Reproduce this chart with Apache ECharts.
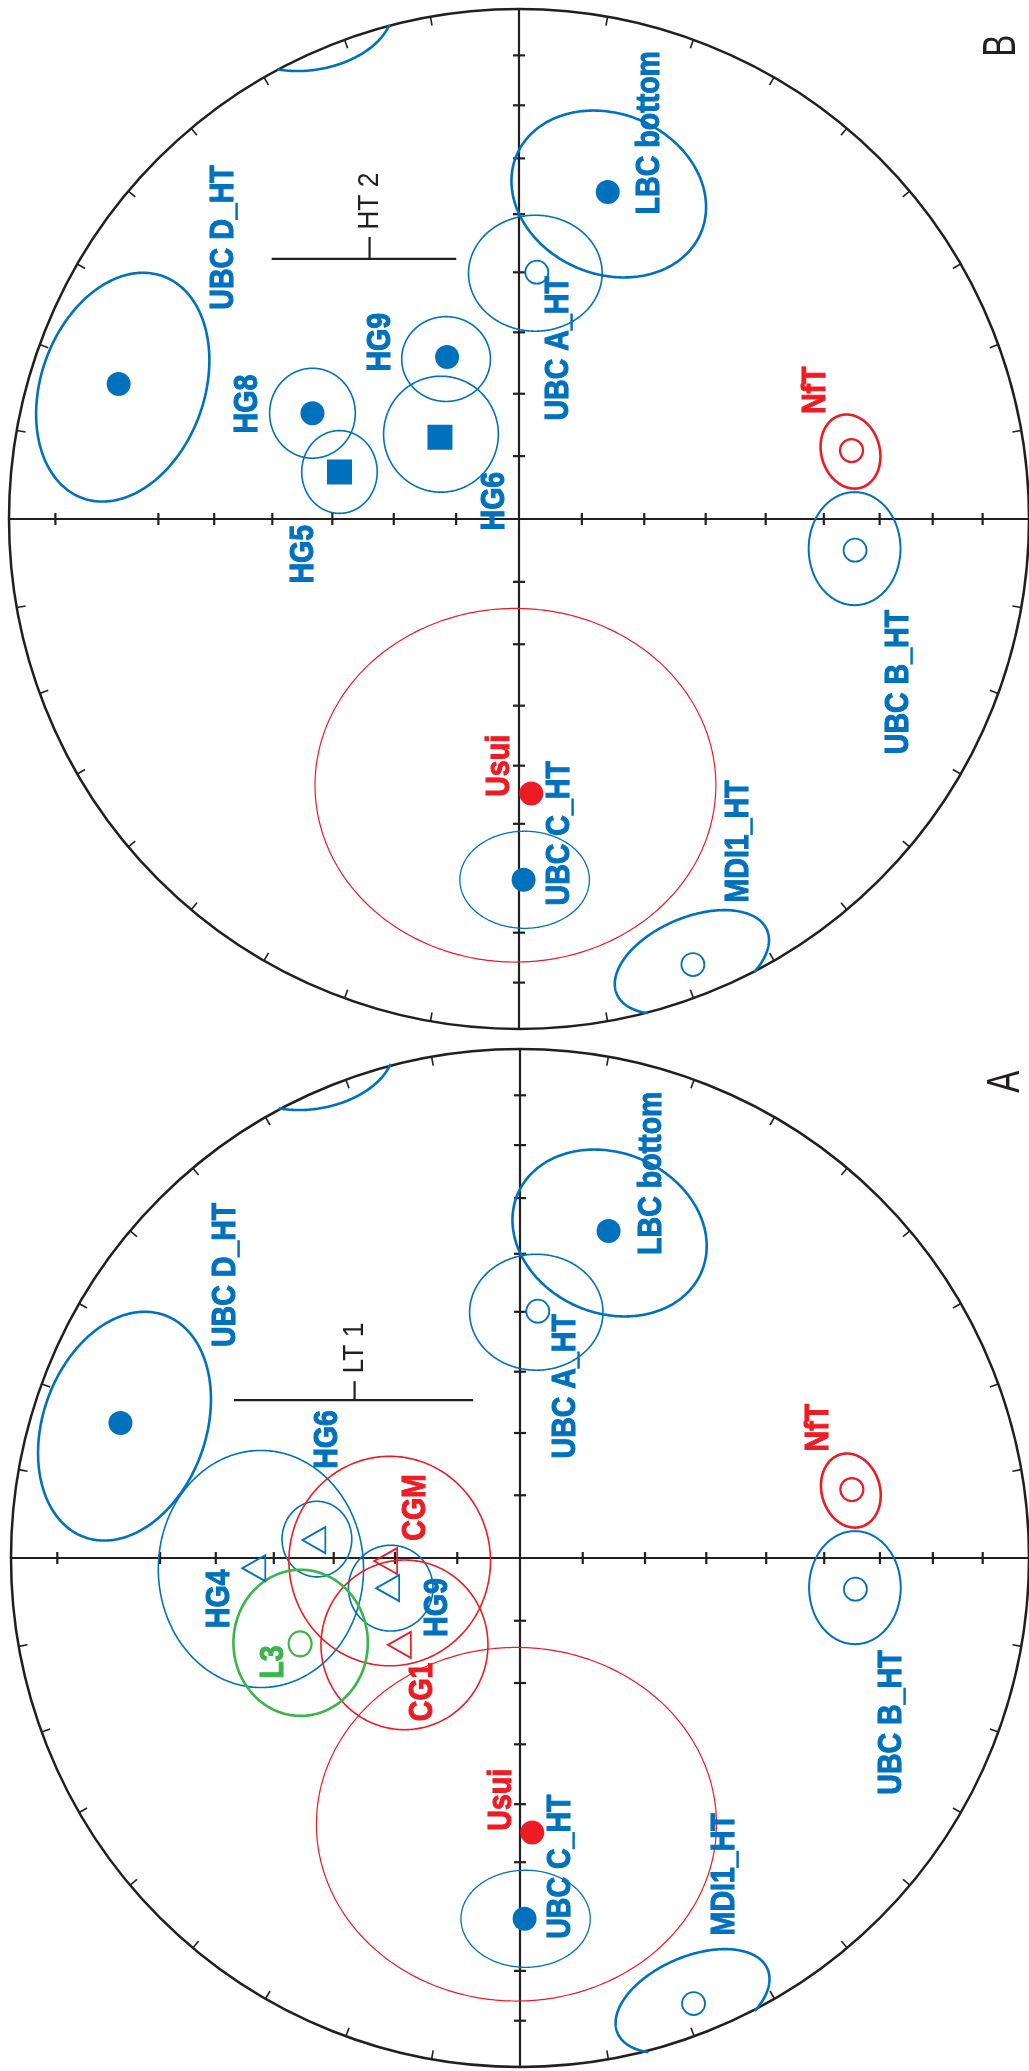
<!DOCTYPE html>
<html>
<head>
<meta charset="utf-8">
<title>Equal-area projections of site mean directions</title>
<script src="https://cdn.jsdelivr.net/npm/echarts@6/dist/echarts.min.js"></script>
<style>
  html, body { margin: 0; padding: 0; background: #ffffff; }
  #chart { width: 1029px; height: 2071px; }
</style>
</head>
<body>
<div id="chart"></div>
<script>
// ---------- net scale ----------
// inclination ticks along the axes (degrees), equal-area spacing
const inclinationTicks = [10, 20, 30, 40, 50, 60, 70, 80];
// azimuth ticks round the primitive (degrees, clockwise from top)
const azimuthTicks = [10, 20, 30, 40, 50, 60, 70, 80, 100, 110, 120, 130, 140, 150, 160, 170,
                      190, 200, 210, 220, 230, 240, 250, 260, 280, 290, 300, 310, 320, 330, 340, 350];

// ---------- sites shown in both nets (projected x, y on the unit net) ----------
const sharedSites = ['UBC D_HT', 'LBC bottom', 'UBC A_HT', 'NfT', 'UBC B_HT', 'UBC C_HT', 'Usui', 'MDI1_HT'];
const sharedMeans = [
  [-0.785, 0.264], [0.174, 0.640], [0.035, 0.483], [0.652, 0.134],
  [0.659, -0.061], [0.009, -0.706], [0.024, -0.537], [0.341, -0.872]
];
// confidence ellipses: [centre x, centre y, semi-major, semi-minor, tilt of major axis (deg)]
const sharedCones = [
  [-0.777, 0.258, 0.231, 0.160, 70],
  [0.176, 0.636, 0.196, 0.157, -22.5],
  [0.032, 0.481, 0.131, 0.1135, 0],
  [0.650, 0.132, 0.0736, 0.0573, 106],
  [0.658, -0.058, 0.1106, 0.090, 90],
  [0.011, -0.706, 0.127, 0.095, 0],
  [-0.007, -0.521, 0.393, 0.346, 0],
  [0.339, -0.867, 0.160, 0.087, 23]
];
// part of the MDI1_HT cone that crosses the primitive and reappears opposite
const wrappedSites = ['MDI1_HT'];
const wrappedCones = [[-0.407, 0.977, 0.160, 0.098, 10]];

// ---------- net B only ----------
const sitesB = ['HG8', 'HG5', 'HG9', 'HG6'];
const meansB = [[-0.405, 0.207], [-0.352, 0.092], [-0.141, 0.317], [-0.155, 0.160]];
const conesB = [
  [-0.405, 0.207, 0.088, 0.084, 90],
  [-0.352, 0.092, 0.081, 0.074, 90],
  [-0.143, 0.313, 0.087, 0.083, 0],
  [-0.153, 0.166, 0.1135, 0.1125, 90]
];

// ---------- net A only ----------
const sitesA = ['HG4', 'HG6', 'CGM', 'HG9', 'CG1', 'L3'];
const meansA = [[-0.523, -0.020], [-0.405, 0.035], [-0.264, -0.006], [-0.260, -0.059], [-0.237, -0.170], [-0.432, -0.168]];
const conesA = [
  [-0.509, -0.0215, 0.232, 0.2016, 90],
  [-0.399, 0.037, 0.074, 0.0685, 90],
  [-0.256, -0.006, 0.205, 0.198, 90],
  [-0.254, -0.059, 0.084, 0.083, 90],
  [-0.227, -0.170, 0.166, 0.164, 90],
  [-0.431, -0.166, 0.143, 0.132, 90]
];

// ---------- reference bars: [from x, to x, y, tick x, tick top] ----------
const barB = { text: 'HT 2', seg: [-0.485, -0.123, 0.509, -0.293, 0.552] };
const barA = { text: 'LT 1', seg: [-0.562, -0.092, 0.309, -0.325, 0.346] };

// ---------- styling ----------
const BLUE = '#0071bc', RED = '#ed1c24', GREEN = '#39b54a', INK = '#231f20';

const sharedStyle = {
  'UBC D_HT':   { color: BLUE, marker: 'dot',  line: 2.6 },
  'LBC bottom': { color: BLUE, marker: 'dot',  line: 2.6 },
  'UBC A_HT':   { color: BLUE, marker: 'ring', line: 1.6 },
  'NfT':        { color: RED,  marker: 'ring', line: 2.6 },
  'UBC B_HT':   { color: BLUE, marker: 'ring', line: 2.0 },
  'UBC C_HT':   { color: BLUE, marker: 'dot',  line: 1.3 },
  'Usui':       { color: RED,  marker: 'dot',  line: 1.2 },
  'MDI1_HT':    { color: BLUE, marker: 'ring', line: 2.6 }
};
const styleB = Object.assign({}, sharedStyle, {
  'HG8': { color: BLUE, marker: 'dot',    line: 1.6 },
  'HG5': { color: BLUE, marker: 'square', line: 1.6 },
  'HG9': { color: BLUE, marker: 'dot',    line: 1.6 },
  'HG6': { color: BLUE, marker: 'square', line: 1.6 }
});
const styleA = Object.assign({}, sharedStyle, {
  'HG4': { color: BLUE,  marker: 'tri',  line: 1.6 },
  'HG6': { color: BLUE,  marker: 'tri',  line: 1.6 },
  'CGM': { color: RED,   marker: 'tri',  line: 1.6 },
  'HG9': { color: BLUE,  marker: 'tri',  line: 1.6 },
  'CG1': { color: RED,   marker: 'tri',  line: 1.6 },
  'L3':  { color: GREEN, marker: 'ring', line: 2.6 }
});

// label placement on each net (unit-net coordinates)
const placeB = {
  'UBC D_HT': [-0.579, 0.551], 'HG8': [-0.533, 0.225], 'HG9': [-0.272, 0.346], 'HG5': [-0.422, -0.069],
  'HG6': [-0.047, 0.035], 'LBC bottom': [0.257, 0.756], 'UBC A_HT': [0.078, 0.334], 'NfT': [0.582, 0.252],
  'UBC B_HT': [0.744, -0.319], 'MDI1_HT': [0.430, -0.631], 'UBC C_HT': [0.079, -0.615], 'Usui': [-0.038, -0.483]
};
const placeA = {
  'UBC D_HT': [-0.579, 0.554], 'HG6': [-0.377, 0.232], 'CGM': [-0.2045, 0.099], 'HG4': [-0.591, -0.080],
  'L3': [-0.484, -0.2035], 'HG9': [-0.162, -0.097], 'CG1': [-0.191, -0.262], 'Usui': [-0.037, -0.473],
  'LBC bottom': [0.258, 0.753], 'UBC A_HT': [0.090, 0.336], 'NfT': [0.586, 0.255],
  'UBC B_HT': [0.730, -0.322], 'MDI1_HT': [0.402, -0.619], 'UBC C_HT': [0.080, -0.604]
};
const panelB = { text: 'B', at: [0.947, 0.926], bar: [-0.293, 0.622] };
const panelA = { text: 'A', at: [0.955, 0.932], bar: [-0.325, 0.411] };

const SITE_FONT = 'bold 34px "Liberation Sans", Arial, sans-serif';
const NOTE_FONT = '30px "Liberation Sans", Arial, sans-serif';
const PANEL_FONT = '46px "Liberation Sans", Arial, sans-serif';

// ---------- renderers ----------
function frameRenderer(skipLeft) {
  return function (params, api) {
    const c = api.coord([0, 0]);
    const r = api.coord([1, 0])[0] - c[0];
    const ls = { stroke: INK, lineWidth: 2.2 };
    const kids = [
      { type: 'circle', shape: { cx: c[0], cy: c[1], r: r }, style: { fill: 'none', stroke: INK, lineWidth: 2.5 } },
      { type: 'line', shape: { x1: c[0] - r, y1: c[1], x2: c[0] + r, y2: c[1] }, style: ls },
      { type: 'line', shape: { x1: c[0], y1: c[1] - r, x2: c[0], y2: c[1] + r }, style: ls }
    ];
    inclinationTicks.forEach(function (inc) {
      const d = Math.SQRT2 * Math.sin((90 - inc) / 2 * Math.PI / 180) * r;
      const h = 6;
      kids.push({ type: 'line', shape: { x1: c[0] + d, y1: c[1] - h, x2: c[0] + d, y2: c[1] + h }, style: ls });
      if (skipLeft.indexOf(inc) < 0) {
        kids.push({ type: 'line', shape: { x1: c[0] - d, y1: c[1] - h, x2: c[0] - d, y2: c[1] + h }, style: ls });
      }
      kids.push({ type: 'line', shape: { x1: c[0] - h, y1: c[1] - d, x2: c[0] + h, y2: c[1] - d }, style: ls });
      kids.push({ type: 'line', shape: { x1: c[0] - h, y1: c[1] + d, x2: c[0] + h, y2: c[1] + d }, style: ls });
    });
    azimuthTicks.forEach(function (az) {
      const t = az * Math.PI / 180;
      const ux = Math.sin(t), uy = -Math.cos(t);
      kids.push({ type: 'line', shape: { x1: c[0] + ux * r, y1: c[1] + uy * r, x2: c[0] + ux * (r - 9), y2: c[1] + uy * (r - 9) },
        style: { stroke: INK, lineWidth: 1.6 } });
    });
    return { type: 'group', children: kids };
  };
}

function coneRenderer(styles) {
  return function (params, api) {
    const cx = api.value(0), cy = api.value(1), a = api.value(2), b = api.value(3);
    const t = api.value(4) * Math.PI / 180;
    const st = styles[params.dataIndex];
    const N = 360, ring = [];
    for (let i = 0; i < N; i++) {
      const th = 2 * Math.PI * i / N;
      const ex = a * Math.cos(th), ey = b * Math.sin(th);
      const x = cx + ex * Math.cos(t) - ey * Math.sin(t);
      const y = cy + ex * Math.sin(t) + ey * Math.cos(t);
      ring.push({ x: x, y: y, inside: x * x + y * y <= 1 });
    }
    const style = { fill: 'none', stroke: st.color, lineWidth: st.line };
    const firstOut = ring.findIndex(function (p) { return !p.inside; });
    if (firstOut < 0) {
      return { type: 'polygon', shape: { points: ring.map(function (p) { return api.coord([p.x, p.y]); }) }, style: style };
    }
    const runs = [];
    let cur = null;
    for (let k = 0; k <= N; k++) {
      const p = ring[(firstOut + k) % N];
      if (p.inside) {
        if (!cur) { cur = []; runs.push(cur); }
        cur.push(api.coord([p.x, p.y]));
      } else {
        cur = null;
      }
    }
    return {
      type: 'group',
      children: runs.filter(function (r) { return r.length > 1; })
        .map(function (r) { return { type: 'polyline', shape: { points: r }, style: style }; })
    };
  };
}

function labelRenderer(list) {
  return function (params, api) {
    const L = list[params.dataIndex];
    const p = api.coord([api.value(0), api.value(1)]);
    return {
      type: 'text', x: p[0], y: p[1], rotation: Math.PI / 2, scaleX: L.sx,
      style: {
        text: L.text, font: L.font, fill: L.color, align: 'center', verticalAlign: 'middle',
        stroke: L.heavy ? L.color : null, lineWidth: L.heavy ? 1.1 : 0
      }
    };
  };
}

function barRenderer(params, api) {
  const x0 = api.value(0), x1 = api.value(1), y = api.value(2), tx = api.value(3), ty = api.value(4);
  const a = api.coord([x0, y]), b = api.coord([x1, y]), t0 = api.coord([tx, y]), t1 = api.coord([tx, ty]);
  const ls = { stroke: INK, lineWidth: 2.2 };
  return {
    type: 'group', children: [
      { type: 'line', shape: { x1: a[0], y1: a[1], x2: b[0], y2: b[1] }, style: ls },
      { type: 'line', shape: { x1: t0[0], y1: t0[1], x2: t1[0], y2: t1[1] }, style: ls }
    ]
  };
}

// ---------- builders ----------
function markerItems(names, means, styles) {
  return names.map(function (n, i) {
    const s = styles[n];
    const item = { name: n, value: means[i] };
    if (s.marker === 'dot') {
      item.symbol = 'circle'; item.symbolSize = 24; item.itemStyle = { color: s.color, opacity: 1 };
    } else if (s.marker === 'square') {
      item.symbol = 'rect'; item.symbolSize = 25; item.itemStyle = { color: s.color, opacity: 1 };
    } else if (s.marker === 'ring') {
      item.symbol = 'circle'; item.symbolSize = n === 'L3' ? [23, 25] : 23;
      item.itemStyle = { color: 'rgba(255,255,255,0)', borderColor: s.color, borderWidth: s.color === BLUE ? 1.8 : 2.2, opacity: 1 };
    } else {
      item.symbol = 'triangle'; item.symbolSize = [26, 23]; item.symbolRotate = 90;
      item.itemStyle = { color: 'rgba(255,255,255,0)', borderColor: s.color, borderWidth: 1.8, opacity: 1 };
    }
    return item;
  });
}

function labelList(place, styles, panel, bar) {
  const list = Object.keys(place).map(function (n) {
    return { text: n, pos: place[n], font: SITE_FONT, color: styles[n].color, sx: 0.84, heavy: true };
  });
  list.push({ text: bar.text, pos: panel.bar, font: NOTE_FONT, color: INK, sx: 0.88 });
  list.push({ text: panel.text, pos: panel.at, font: PANEL_FONT, color: INK, sx: 0.72 });
  return list;
}

function netSeries(idx, names, means, cones, styles, place, panel, bar, skipLeft) {
  const allNames = sharedSites.concat(names);
  const allMeans = sharedMeans.concat(means);
  const allCones = sharedCones.concat(wrappedCones, cones);
  const coneStyles = sharedSites.concat(wrappedSites, names).map(function (n) { return styles[n]; });
  const labels = labelList(place, styles, panel, bar);
  const common = { xAxisIndex: idx, yAxisIndex: idx, silent: true, animation: false };
  return [
    Object.assign({ type: 'custom', name: 'net' + idx, z: 1, data: [[0, 0]], renderItem: frameRenderer(skipLeft), clip: false }, common),
    Object.assign({ type: 'custom', name: 'bar' + idx, z: 2, data: [bar.seg], renderItem: barRenderer, clip: false }, common),
    Object.assign({ type: 'custom', name: 'cones' + idx, z: 3, data: allCones, renderItem: coneRenderer(coneStyles), clip: false }, common),
    Object.assign({ type: 'scatter', name: 'means' + idx, z: 4, itemStyle: { opacity: 1 }, data: markerItems(allNames, allMeans, styles) }, common),
    Object.assign({ type: 'custom', name: 'labels' + idx, z: 5, data: labels.map(function (l) { return l.pos; }),
      renderItem: labelRenderer(labels), clip: false }, common)
  ];
}

const R = 511;
const chart = echarts.init(document.getElementById('chart'), null, { renderer: 'canvas', width: 1029, height: 2071 });
chart.setOption({
  animation: false,
  backgroundColor: '#ffffff',
  grid: [
    { left: 520 - R, top: 519 - R, width: 2 * R, height: 2 * R },
    { left: 522 - R, top: 1558 - R, width: 2 * R, height: 2 * R }
  ],
  xAxis: [
    { gridIndex: 0, type: 'value', min: -1, max: 1, show: false },
    { gridIndex: 1, type: 'value', min: -1, max: 1, show: false }
  ],
  yAxis: [
    { gridIndex: 0, type: 'value', min: -1, max: 1, show: false },
    { gridIndex: 1, type: 'value', min: -1, max: 1, show: false }
  ],
  series: [].concat(
    netSeries(0, sitesB, meansB, conesB, styleB, placeB, panelB, barB, [20]),
    netSeries(1, sitesA, meansA, conesA, styleA, placeA, panelA, barA, [20])
  )
});
</script>
</body>
</html>
